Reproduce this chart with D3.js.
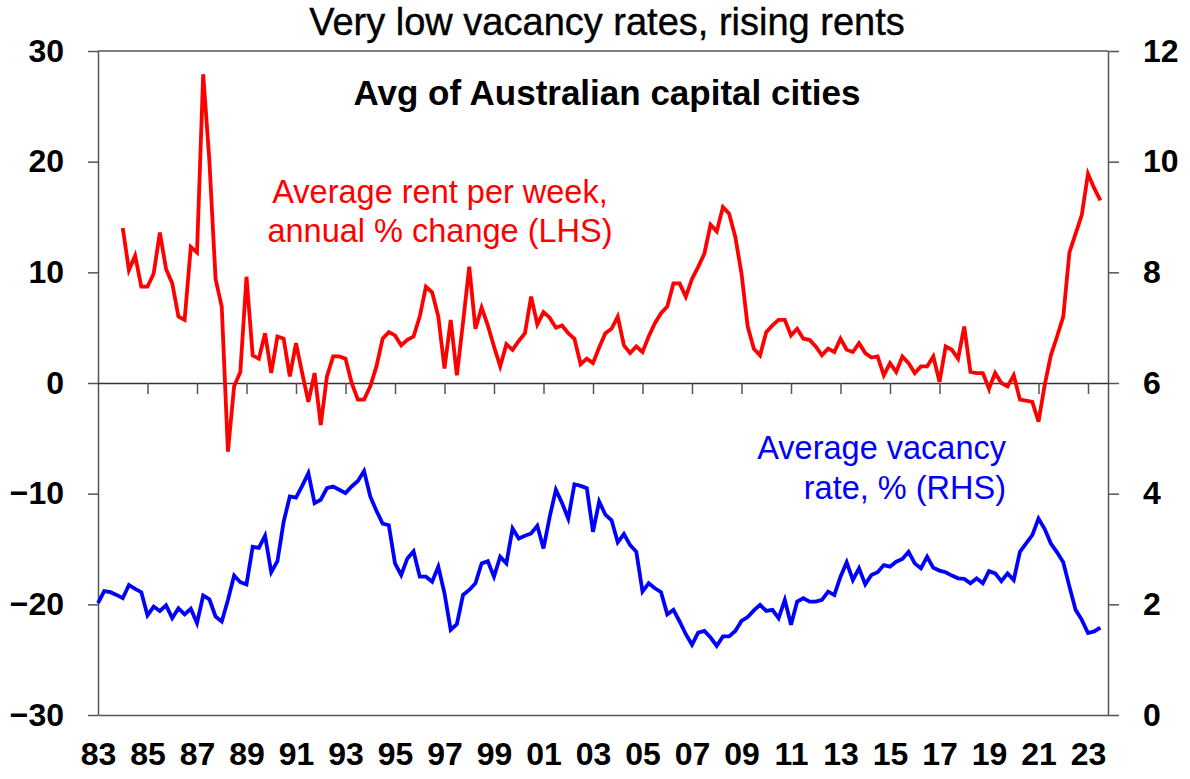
<!DOCTYPE html>
<html>
<head>
<meta charset="utf-8">
<script src="https://cdn.jsdelivr.net/npm/d3@7"></script>
<style>
  body { margin: 0; background: #fff; }
  text { font-family: "Liberation Sans", Arial, sans-serif; }
</style>
</head>
<body>
<div id="chart"></div>
<script>
// ---- data: quarterly ----
const vacancyStart = 1983;   // first quarter of the vacancy series
const vacancyRate = [
  2.02, 2.24, 2.22, 2.17,  2.11, 2.35, 2.28, 2.22,  1.80, 1.96, 1.88, 1.98,
  1.75, 1.93, 1.82, 1.92,  1.66, 2.16, 2.09, 1.78,  1.69, 2.08, 2.52, 2.40,
  2.36, 3.04, 3.02, 3.24,  2.58, 2.78, 3.49, 3.95,  3.93, 4.14, 4.37, 3.83,
  3.89, 4.10, 4.13, 4.07,  4.01, 4.13, 4.23, 4.41,  3.95, 3.69, 3.46, 3.43,
  2.74, 2.53, 2.83, 2.96,  2.50, 2.50, 2.41, 2.68,  2.20, 1.54, 1.64, 2.17,
  2.26, 2.38, 2.74, 2.78,  2.50, 2.86, 2.74, 3.37,  3.19, 3.24, 3.28, 3.42,
  3.01, 3.58, 4.07, 3.83,  3.55, 4.17, 4.14, 4.10,  3.31, 3.86, 3.62, 3.52,
  3.12, 3.27, 3.07, 2.95,  2.23, 2.38, 2.29, 2.22,  1.82, 1.90, 1.69, 1.46,
  1.27, 1.49, 1.52, 1.40,  1.25, 1.42, 1.42, 1.52,  1.70, 1.77, 1.89, 1.99,
  1.88, 1.90, 1.75, 2.08,  1.63, 2.05, 2.11, 2.05,  2.05, 2.08, 2.23, 2.17,
  2.50, 2.76, 2.44, 2.65,  2.36, 2.53, 2.58, 2.71,  2.68, 2.77, 2.82, 2.95,
  2.74, 2.65, 2.86, 2.66,  2.61, 2.58, 2.52, 2.47,  2.46, 2.38, 2.47, 2.38,
  2.60, 2.56, 2.42, 2.56,  2.44, 2.95, 3.10, 3.25,  3.55, 3.36, 3.10, 2.94,
  2.76, 2.32, 1.90, 1.72,  1.48, 1.51, 1.58
];

const rentStart = 1984;      // first quarter of the rent series
const rentGrowth = [
  14.0, 10.2, 11.5, 8.7,   8.7, 9.9, 13.6, 10.3,   9.0, 6.0, 5.7, 12.3,
  11.8, 27.9, 20.1, 9.4,   6.9, -6.2, -0.3, 1.0,   9.6, 2.5, 2.2, 4.5,
  0.9, 4.2, 4.0, 0.6,      3.6, 0.9, -1.7, 0.9,    -3.8, 0.6, 2.4, 2.4,
  2.2, 0.0, -1.5, -1.5,    -0.3, 1.5, 4.0, 4.6,    4.3, 3.4, 3.9, 4.2,
  6.0, 8.7, 8.2, 6.0,      1.3, 5.7, 0.7, 5.5,     10.5, 4.9, 6.8, 5.2,
  3.3, 1.5, 3.5, 3.0,      3.8, 4.5, 7.8, 5.3,     6.4, 5.9, 5.0, 5.2,
  4.5, 4.0, 1.7, 2.2,      1.8, 3.2, 4.5, 4.9,     6.0, 3.4, 2.7, 3.3,
  2.8, 4.2, 5.4, 6.3,      6.9, 9.0, 9.0, 7.8,     9.4, 10.5, 11.7, 14.3,
  13.7, 15.9, 15.3, 13.2,  9.9, 5.1, 3.1, 2.5,     4.6, 5.2, 5.7, 5.7,
  4.3, 4.9, 4.0, 3.9,      3.3, 2.5, 3.1, 2.8,     4.0, 3.0, 2.8, 3.6,
  2.7, 2.3, 2.4, 0.7,      1.8, 1.0, 2.4, 1.8,     0.9, 1.5, 1.5, 2.4,
  0.1, 3.3, 3.0, 2.2,      5.1, 1.0, 0.9, 0.9,     -0.5, 0.9, 0.0, -0.3,
  0.7, -1.5, -1.6, -1.7,   -3.5, -0.2, 2.5, 4.2,   6.0, 11.8, 13.5, 15.2,
  18.9, 17.6, 16.5
];

const yearTicks = d3.range(1983, 2024, 2);   // 83, 85, ... 23
const leftTicks = [-30, -20, -10, 0, 10, 20, 30];
const rightTicks = [0, 2, 4, 6, 8, 10, 12];

// ---- layout ----
const W = 1190, H = 779;
const plot = { left: 98, right: 1108, top: 51, bottom: 715 };

const svg = d3.select("#chart").append("svg")
  .attr("width", W)
  .attr("height", H);

// ---- scales ----
const x = d3.scaleLinear()
  .domain([1983, 1983 + (plot.right - plot.left) / 24.75])
  .range([plot.left, plot.right]);

const yL = d3.scaleLinear().domain([-30, 30]).range([plot.bottom, plot.top]);
const yR = d3.scaleLinear().domain([0, 12]).range([plot.bottom, plot.top]);

const axisColor = "#555";

// top border
svg.append("line")
  .attr("x1", plot.left).attr("x2", plot.right)
  .attr("y1", plot.top).attr("y2", plot.top)
  .attr("stroke", axisColor).attr("stroke-width", 1.5);

// left axis
const gL = svg.append("g")
  .attr("transform", `translate(${plot.left},0)`)
  .call(d3.axisLeft(yL).tickValues(leftTicks).tickSize(10).tickSizeOuter(0).tickPadding(24));

// right axis
const gR = svg.append("g")
  .attr("transform", `translate(${plot.right},0)`)
  .call(d3.axisRight(yR).tickValues(rightTicks).tickSize(11).tickSizeOuter(0).tickPadding(24));

// bottom border + year labels
const gB = svg.append("g")
  .attr("transform", `translate(0,${plot.bottom})`)
  .call(d3.axisBottom(x).tickValues(yearTicks).tickSize(0).tickSizeOuter(0).tickPadding(27)
    .tickFormat(d => String(d % 100).padStart(2, "0")));

// zero line with tick marks
const gZ = svg.append("g")
  .attr("transform", `translate(0,${yL(0)})`)
  .call(d3.axisBottom(x).tickValues(yearTicks.slice(1)).tickSize(11).tickSizeOuter(0)
    .tickFormat(""));

[gL, gR, gB, gZ].forEach(g => {
  g.selectAll("path, line").attr("stroke", axisColor).attr("stroke-width", 1.5);
  g.selectAll("text")
    .attr("fill", "#000")
    .style("font-size", "32px")
    .style("font-weight", "bold");
});
gZ.select("path").attr("stroke", "#333");

// ---- lines ----
const vacancyLine = d3.line()
  .x((d, i) => x(vacancyStart + i / 4))
  .y(d => yR(d));

const rentLine = d3.line()
  .x((d, i) => x(rentStart + i / 4))
  .y(d => yL(d));

svg.append("path")
  .datum(vacancyRate)
  .attr("fill", "none")
  .attr("stroke", "#0000ff")
  .attr("stroke-width", 3.8)
  .attr("d", vacancyLine);

svg.append("path")
  .datum(rentGrowth)
  .attr("fill", "none")
  .attr("stroke", "#ff0000")
  .attr("stroke-width", 3.8)
  .attr("d", rentLine);

// ---- text ----
svg.append("text")
  .attr("x", 607).attr("y", 35)
  .attr("text-anchor", "middle")
  .style("font-size", "38px")
  .attr("stroke", "#000").attr("stroke-width", 0.4)
  .text("Very low vacancy rates, rising rents");

svg.append("text")
  .attr("x", 607).attr("y", 105)
  .attr("text-anchor", "middle")
  .style("font-size", "35px")
  .style("font-weight", "bold")
  .text("Avg of Australian capital cities");

const redLabel = ["Average rent per week,", "annual % change (LHS)"];
svg.append("g").selectAll("text")
  .data(redLabel)
  .enter().append("text")
  .attr("x", 440)
  .attr("y", (d, i) => 203 + i * 39)
  .attr("text-anchor", "middle")
  .attr("fill", "#ff0000")
  .style("font-size", "32.5px")
  .text(d => d);

const blueLabel = ["Average vacancy", "rate, % (RHS)"];
svg.append("g").selectAll("text")
  .data(blueLabel)
  .enter().append("text")
  .attr("x", 1006)
  .attr("y", (d, i) => 459 + i * 40)
  .attr("text-anchor", "end")
  .attr("fill", "#0000ff")
  .style("font-size", "32.5px")
  .text(d => d);
</script>
</body>
</html>
